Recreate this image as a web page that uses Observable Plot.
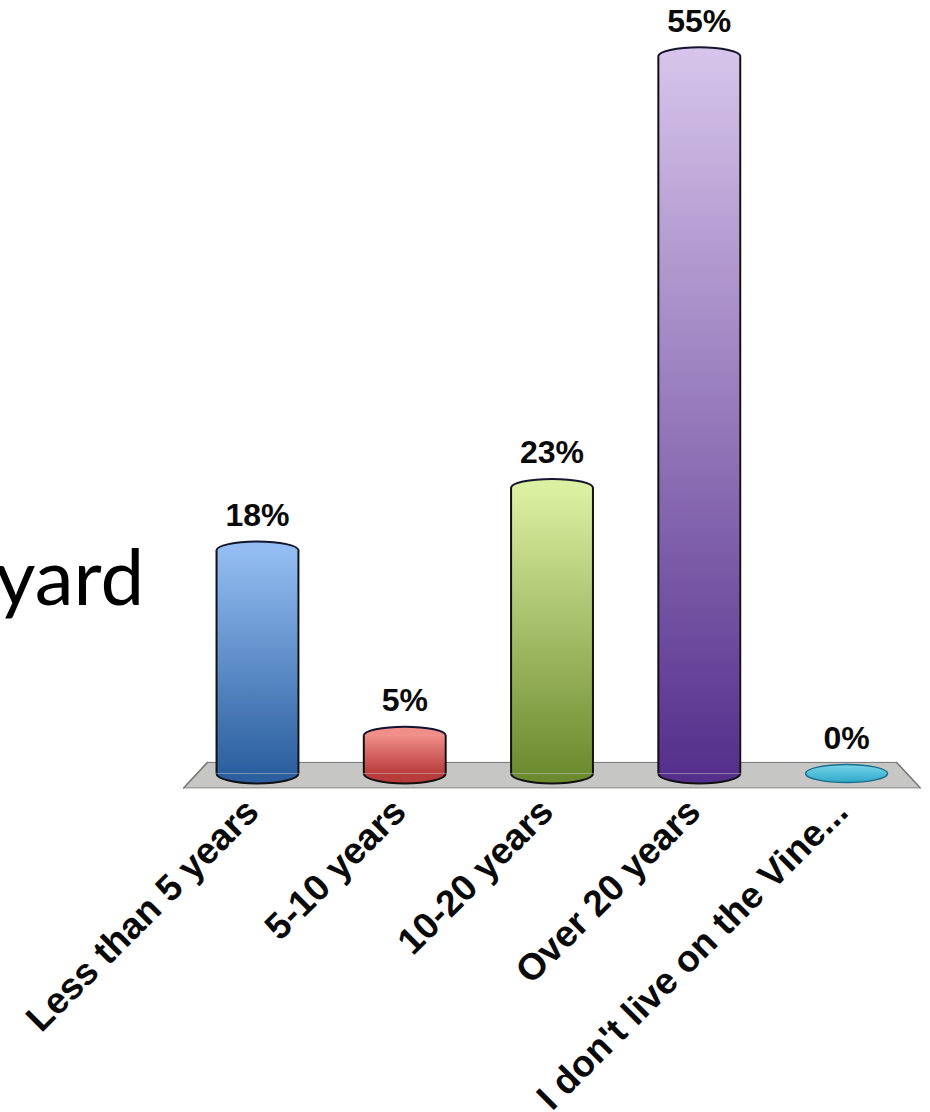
<!DOCTYPE html>
<html>
<head>
<meta charset="utf-8">
<script src="https://cdn.jsdelivr.net/npm/d3@7"></script>
<script src="https://cdn.jsdelivr.net/npm/@observablehq/plot@0.6"></script>
<style>
html,body{margin:0;padding:0;background:#fff;overflow:hidden}
svg{display:block}
</style>
</head>
<body>
<div id="chart"></div>
<script>
const categories = ["Less than 5 years", "5-10 years", "10-20 years", "Over 20 years", "I don't live on the Vine..."];
const positions = [0, 1, 2, 3, 4];
const heights = [17.1, 2.9, 21.9, 55, 0];
const valueLabels = ["18%", "5%", "23%", "55%", "0%"];
const topColors = ["#93bdf2", "#f08e88", "#dcf0a2", "#d6c4ea", "#78d4ea"];
const bottomColors = ["#2b5f9f", "#b93c3d", "#6c8b2f", "#552f8c", "#2fa9c9"];
const floorY = [-1.1, 0.85];
const floorLeft = [-0.5, -0.34];
const floorRight = [4.5, 4.34];
const halfWidth = 0.278;
const capRadius = 41;

const rows = categories.map((name, i) => ({
  name, pos: positions[i], h: heights[i], label: valueLabels[i],
  fill: `url(#cyl${i})`, top: topColors[i], bottom: bottomColors[i]
}));
const solid = rows.filter(d => d.h > 0);
const flat = rows.filter(d => d.h === 0);
const floor = floorY.map((y, i) => ({y, x1: floorLeft[i], x2: floorRight[i]}));

const k = 0.5523, flatness = 0.22;
const upperCap = {draw(c, size) {
  const a = Math.sqrt(size / Math.PI), b = a * flatness;
  c.moveTo(-a, 0);
  c.bezierCurveTo(-a, -k * b, -k * a, -b, 0, -b);
  c.bezierCurveTo(k * a, -b, a, -k * b, a, 0);
}};
const lowerCap = {draw(c, size) {
  const a = Math.sqrt(size / Math.PI), b = a * flatness * 1.1;
  c.moveTo(-a, 0);
  c.bezierCurveTo(-a, k * b, -k * a, b, 0, b);
  c.bezierCurveTo(k * a, b, a, k * b, a, 0);
}};
const disc = {draw(c, size) {
  const a = Math.sqrt(size / Math.PI), b = a * flatness;
  c.moveTo(-a, 0);
  c.bezierCurveTo(-a, -k * b, -k * a, -b, 0, -b);
  c.bezierCurveTo(k * a, -b, a, -k * b, a, 0);
  c.bezierCurveTo(a, k * b, k * a, b, 0, b);
  c.bezierCurveTo(-k * a, b, -a, k * b, -a, 0);
  c.closePath();
}};

function gradients() {
  const defs = d3.create("svg:defs");
  rows.forEach((d, i) => {
    const g = defs.append("linearGradient").attr("id", `cyl${i}`)
      .attr("x1", 0).attr("y1", 0).attr("x2", 0).attr("y2", 1);
    g.append("stop").attr("offset", "0%").attr("stop-color", d.top);
    g.append("stop").attr("offset", "100%").attr("stop-color", d.bottom);
  });
  return defs.node();
}

const labelFont = "'Liberation Sans', Arial, sans-serif";
const chart = Plot.plot({
  width: 930,
  height: 1112,
  marginTop: 0, marginRight: 0, marginLeft: 0, marginBottom: 322,
  style: {background: "#fff", fontFamily: labelFont, overflow: "hidden"},
  x: {domain: [-1.745, 4.57], label: null},
  y: {domain: [-1.304, 59.28], axis: null, label: null},
  color: {type: "identity"},
  marks: [
    gradients,
    Plot.areaX(floor, {y: "y", x1: "x1", x2: "x2", fill: "#c6c6c4"}),
    Plot.lineX(floor, {y: "y", x: "x1", stroke: "#777"}),
    Plot.lineX(floor, {y: "y", x: "x2", stroke: "#777"}),
    Plot.ruleY([floorY[0]], {x1: floorLeft[0], x2: floorRight[0], stroke: "#777"}),
    Plot.ruleY([floorY[1]], {x1: floorLeft[1], x2: floorRight[1], stroke: "#777"}),
    Plot.dot(solid, {x: "pos", y: 0, r: capRadius, symbol: lowerCap, fill: "bottom", stroke: "#111", strokeWidth: 2}),
    Plot.rectY(solid, {x1: d => d.pos - halfWidth, x2: d => d.pos + halfWidth, y1: 0, y2: "h", fill: "fill", inset: 0}),
    Plot.ruleX(solid, {x: d => d.pos - halfWidth, y1: 0, y2: "h", stroke: "#111", strokeWidth: 2}),
    Plot.ruleX(solid, {x: d => d.pos + halfWidth, y1: 0, y2: "h", stroke: "#111", strokeWidth: 2}),
    Plot.dot(solid, {x: "pos", y: "h", r: capRadius, symbol: upperCap, fill: "top", stroke: "#14142e", strokeWidth: 2}),
    Plot.dot(flat, {x: "pos", y: "h", r: capRadius, symbol: disc, fill: "fill", stroke: "#1c6f8c", strokeWidth: 1.5}),
    Plot.text(rows, {x: "pos", y: "h", text: "label", dy: -35, fontSize: 32, fontWeight: "bold", fill: "#0a0a0a", fontFamily: labelFont}),
    Plot.axisX({
      ticks: positions, tickFormat: i => categories[i], tickSize: 0, tickPadding: 14,
      tickRotate: -45, fontSize: 37, fontWeight: "bold", fill: "#0a0a0a", label: null, fontFamily: labelFont, textStroke: "none",
      dx: -5, dy: 1
    }),
    Plot.text(["yard"], {x: -0.77, y: 12.9, textAnchor: "end", lineAnchor: "bottom", fontSize: 78, fill: "#000", fontFamily: "Lato"})
  ]
});
document.getElementById("chart").append(chart);
</script>
</body>
</html>
